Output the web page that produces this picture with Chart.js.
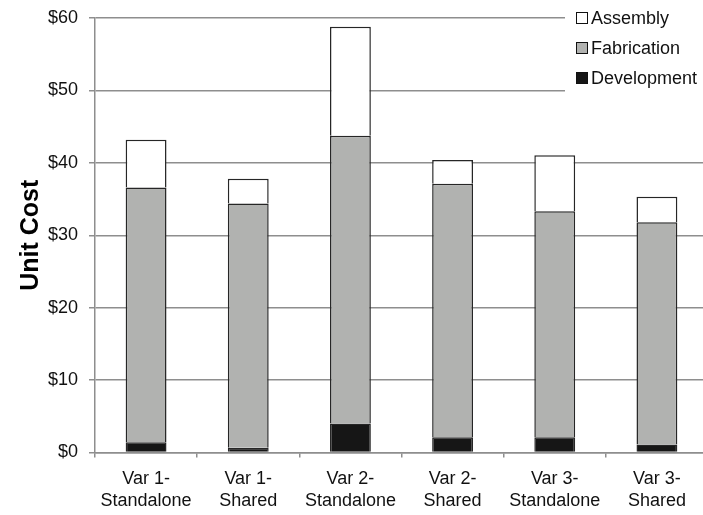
<!DOCTYPE html>
<html>
<head>
<meta charset="utf-8">
<script src="https://cdn.jsdelivr.net/npm/chart.js@4/dist/chart.umd.min.js"></script>
<style>
  html, body { margin: 0; padding: 0; background: #fff; overflow: hidden; }
  #wrap { width: 708px; height: 515px; }
</style>
</head>
<body>
<div id="wrap"><canvas id="c" width="708" height="515"></canvas></div>
<script>
// Unit cost per variant, split by cost component (USD)
const categories = [
  ['Var 1-', 'Standalone'],
  ['Var 1-', 'Shared'],
  ['Var 2-', 'Standalone'],
  ['Var 2-', 'Shared'],
  ['Var 3-', 'Standalone'],
  ['Var 3-', 'Shared']
];
const development = [1.4, 0.65, 4.0, 2.1, 2.1, 1.1];
const fabrication = [35.2, 33.75, 39.75, 35.0, 31.2, 30.7];
const assembly    = [6.6, 3.4, 15.05, 3.3, 7.75, 3.5];
const yTickValues = [0, 10, 20, 30, 40, 50, 60];

const FONT = "'Liberation Sans', Arial, Helvetica, sans-serif";
const GRID = '#8e8e8e';
const EDGE = '#262626';

// Legend drawn in the upper right corner over a white panel, top series first
const cornerLegend = {
  id: 'cornerLegend',
  afterDraw(chart) {
    const ctx = chart.ctx;
    ctx.save();
    ctx.fillStyle = '#fff';
    ctx.fillRect(565, 0, chart.width - 565, 100);
    const items = chart.data.datasets.slice().reverse();
    ctx.font = '18px ' + FONT;
    ctx.textBaseline = 'middle';
    ctx.textAlign = 'left';
    items.forEach((ds, i) => {
      const cy = 18 + i * 30;
      ctx.fillStyle = ds.backgroundColor;
      ctx.fillRect(576.5, cy - 5.5, 11, 11);
      ctx.strokeStyle = '#111';
      ctx.lineWidth = 1;
      ctx.strokeRect(576.5, cy - 5.5, 11, 11);
      ctx.fillStyle = '#111';
      ctx.fillText(ds.label, 591, cy + 1);
    });
    ctx.restore();
  }
};

new Chart(document.getElementById('c'), {
  type: 'bar',
  data: {
    labels: categories,
    datasets: [
      { label: 'Development', data: development, backgroundColor: '#161616' },
      { label: 'Fabrication', data: fabrication, backgroundColor: '#b1b2b0' },
      { label: 'Assembly',    data: assembly,    backgroundColor: '#ffffff' }
    ]
  },
  options: {
    responsive: false,
    animation: false,
    events: [],
    layout: { padding: { top: 18, right: 0, bottom: 0, left: 0 } },
    datasets: {
      bar: {
        borderColor: EDGE,
        borderWidth: 1.5,
        borderSkipped: 'start',
        categoryPercentage: 1.0,
        barPercentage: 0.4
      }
    },
    plugins: {
      legend: { display: false },
      tooltip: { enabled: false },
      title: { display: false }
    },
    scales: {
      x: {
        stacked: true,
        offset: true,
        border: { display: true, color: GRID, width: 1.5 },
        grid: {
          offset: true,
          drawOnChartArea: false,
          drawTicks: true,
          tickLength: 5,
          color: GRID,
          lineWidth: 1.5
        },
        ticks: {
          color: '#111',
          font: { family: FONT, size: 18, lineHeight: 1.25 },
          padding: 10,
          maxRotation: 0,
          autoSkip: false
        },
        afterFit(scale) { scale.height = 62.5; }
      },
      y: {
        stacked: true,
        min: 0,
        max: 60,
        afterBuildTicks(scale) { scale.ticks = yTickValues.map(v => ({ value: v })); },
        border: { display: true, color: GRID, width: 1.5 },
        grid: {
          color: GRID,
          lineWidth: 1.5,
          drawTicks: true,
          tickLength: 6
        },
        ticks: {
          color: '#111',
          font: { family: FONT, size: 18 },
          padding: 11,
          callback: v => '$' + v
        },
        title: {
          display: true,
          text: 'Unit Cost',
          color: '#000',
          font: { family: FONT, size: 25, weight: 'bold' },
          padding: { top: 16, bottom: 0 }
        },
        afterFit(scale) {
          scale.width = 95;
          scale.paddingTop = 0;
          scale.paddingBottom = 0;
        }
      }
    }
  },
  plugins: [cornerLegend]
});
</script>
</body>
</html>
